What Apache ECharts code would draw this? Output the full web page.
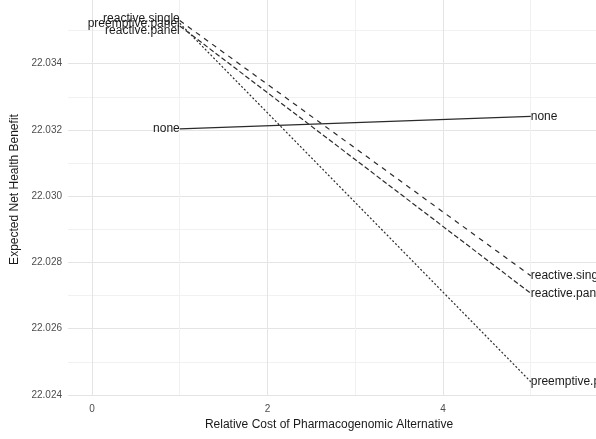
<!DOCTYPE html>
<html>
<head>
<meta charset="utf-8">
<script src="https://cdn.jsdelivr.net/npm/echarts@6/dist/echarts.min.js"></script>
<style>
html,body{margin:0;padding:0;background:#fff;}
#chart{width:596px;height:439px;}
</style>
</head>
<body>
<div id="chart"></div>
<script>
// Data
const xCost = [1, 5];
const strategyNames = ['none', 'preemptive.panel', 'reactive.panel', 'reactive.single'];
const noneVals = [22.03203, 22.03241];
const preemptivePanelVals = [22.03522, 22.02440];
const reactivePanelVals = [22.03514, 22.02707];
const reactiveSingleVals = [22.03530, 22.02760];
const xTickLabels = [0, 2, 4];
const yTickLabels = [22.024, 22.026, 22.028, 22.030, 22.032, 22.034];

const yMin = 22.024, yMax = 22.035922;
const xMax = 5.7436;

const major = '#e4e4e4', minor = '#f1f1f1', none = 'rgba(0,0,0,0)';
const txt = '#1a1a1a';
const FONT = 'Liberation Sans, Arial, sans-serif';

function makeData(vals, name) {
  return xCost.map((x, i) => ({
    value: [x, vals[i]],
    label: {
      show: true,
      formatter: name,
      position: i === 0 ? 'left' : 'right',
      distance: 0,
      color: txt,
      fontSize: 12,
      fontFamily: FONT
    }
  }));
}

const valsMap = {
  'none': noneVals,
  'preemptive.panel': preemptivePanelVals,
  'reactive.panel': reactivePanelVals,
  'reactive.single': reactiveSingleVals
};
const dashMap = {
  'none': 'solid',
  'preemptive.panel': [2, 2],
  'reactive.panel': [5, 2.5],
  'reactive.single': [5, 5]
};
// vertical nudge of the label at the left end
const leftDy = {
  'none': 0,
  'preemptive.panel': 0,
  'reactive.panel': 5,
  'reactive.single': -2
};

const chart = echarts.init(document.getElementById('chart'), null, {renderer: 'canvas'});

const isLabelled = v => yTickLabels.some(t => Math.abs(t - v) < 1e-9);

const ySplitColors = [];
for (let i = 0; i < 12; i++) ySplitColors.push(i % 2 === 0 ? major : minor);
ySplitColors.push(none);
const xSplitColors = [major, minor, major, minor, major, minor, none];

chart.setOption({
  animation: false,
  backgroundColor: '#ffffff',
  grid: [
    {left: 68, right: 0, top: -2, bottom: 44},
    {left: 92, right: 0, top: -2, bottom: 44}
  ],
  xAxis: [
    {gridIndex: 0, type: 'value', min: 0, max: 1, show: false,
     splitLine: {show: false}, axisLine: {show: false}, axisTick: {show: false}, axisLabel: {show: false}},
    {
      gridIndex: 1, type: 'value', min: 0, max: xMax, interval: 1,
      axisLine: {show: false}, axisTick: {show: false},
      axisLabel: {
        color: '#4d4d4d', fontSize: 10, fontFamily: FONT, margin: 9,
        showMaxLabel: false,
        formatter: v => (xTickLabels.indexOf(v) >= 0 ? String(v) : '')
      },
      splitLine: {show: true, lineStyle: {color: xSplitColors, width: 1}},
      name: 'Relative Cost of Pharmacogenomic Alternative',
      nameLocation: 'middle', nameGap: 23,
      nameTextStyle: {color: txt, fontSize: 12, fontFamily: FONT, padding: [0, 30, 0, 0]}
    }
  ],
  yAxis: [
    {
      gridIndex: 0, type: 'value', min: yMin, max: yMax, interval: 0.001,
      axisLine: {show: false}, axisTick: {show: false},
      axisLabel: {
        color: '#4d4d4d', fontSize: 10, fontFamily: FONT, margin: 6,
        showMaxLabel: false,
        formatter: v => (isLabelled(v) ? v.toFixed(3) : '')
      },
      splitLine: {show: true, lineStyle: {color: ySplitColors, width: 1}},
      name: 'Expected Net Health Benefit',
      nameLocation: 'middle', nameGap: 47, nameRotate: 90,
      nameTextStyle: {color: txt, fontSize: 12, fontFamily: FONT, padding: [0, 0, 0, 16]}
    },
    {gridIndex: 1, type: 'value', min: yMin, max: yMax, show: false,
     splitLine: {show: false}, axisLine: {show: false}, axisTick: {show: false}, axisLabel: {show: false}}
  ],
  series: strategyNames.map(name => ({
    name: name,
    type: 'line',
    xAxisIndex: 1, yAxisIndex: 1,
    data: makeData(valsMap[name], name),
    showSymbol: true,
    symbol: 'circle',
    symbolSize: 0.01,
    itemStyle: {color: 'rgba(0,0,0,0)'},
    clip: false,
    lineStyle: {color: '#2b2b2b', width: 1.2, type: dashMap[name]},
    labelLayout: params => ({hideOverlap: false, dy: params.dataIndex === 0 ? leftDy[name] : 0}),
    emphasis: {disabled: true}
  }))
});
</script>
</body>
</html>
